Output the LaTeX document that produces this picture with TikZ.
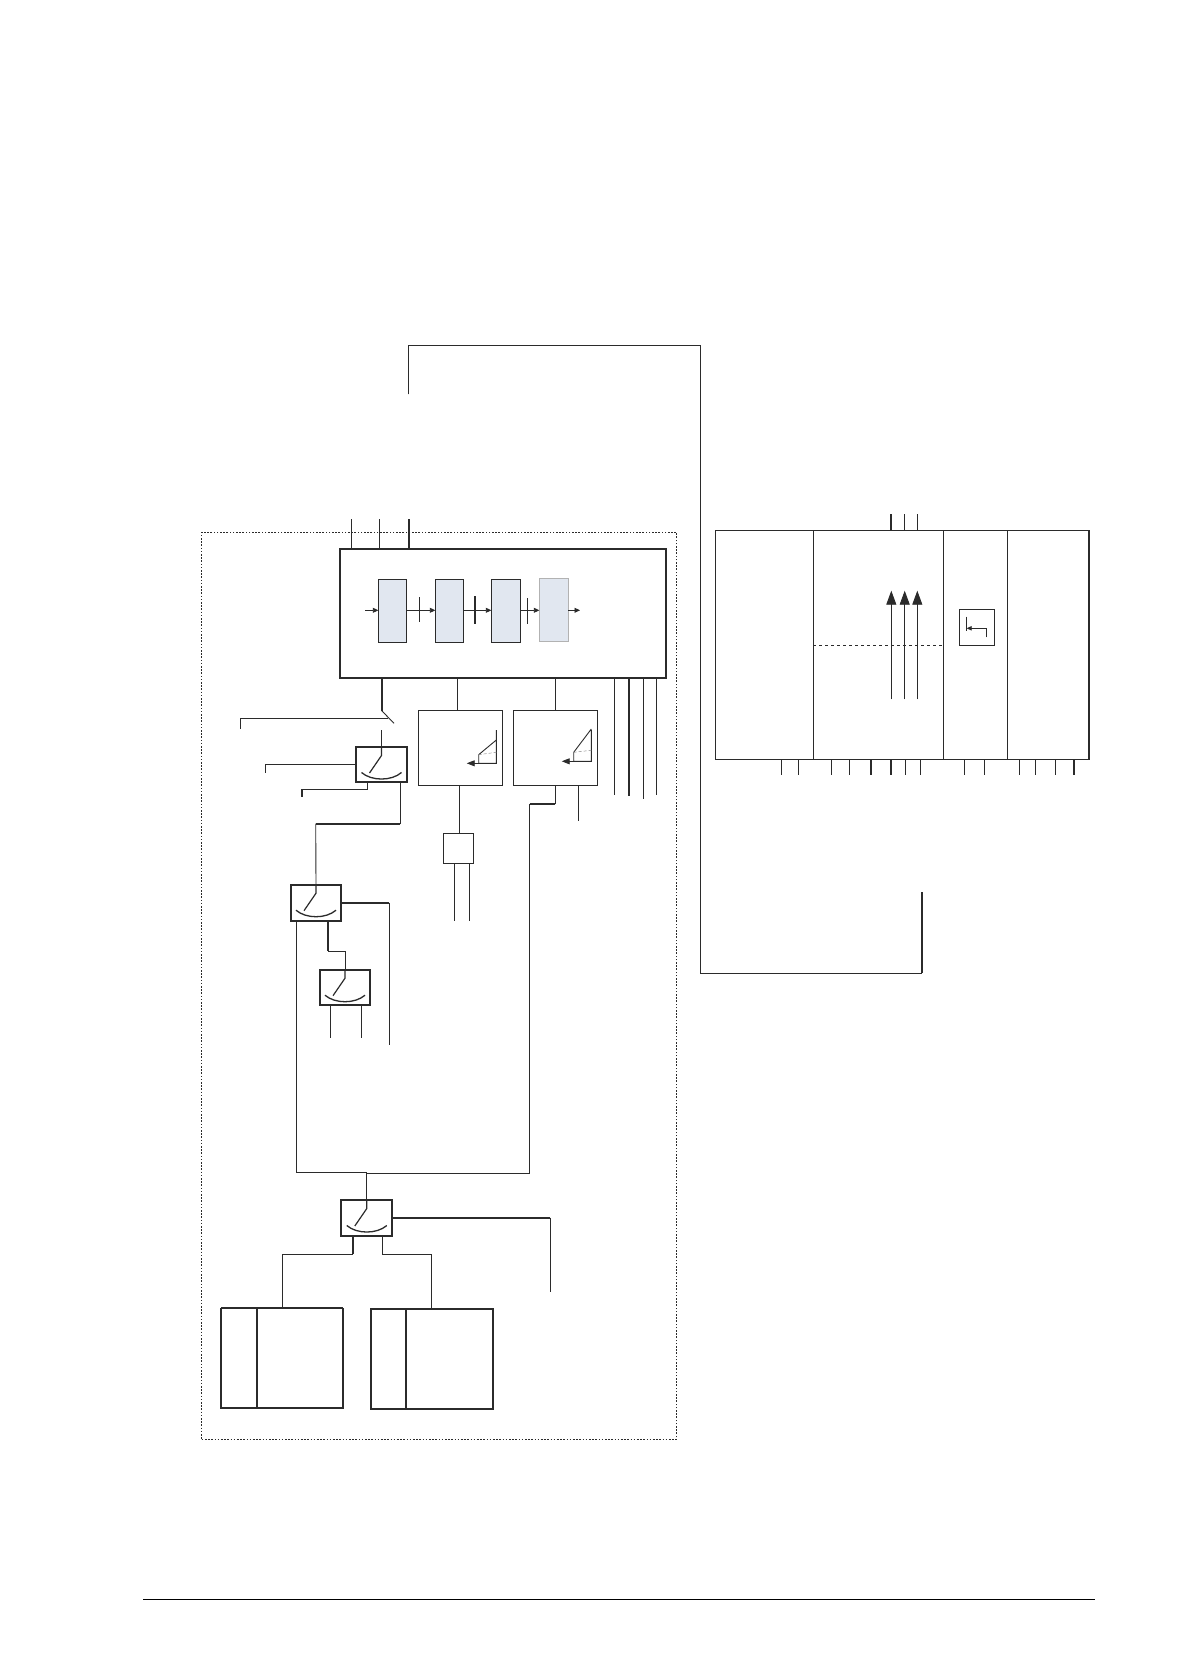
\documentclass[tikz,border=0pt]{standalone}
\usepackage{xcolor}
\usepackage{tikz}
\usetikzlibrary{arrows.meta, positioning}
\definecolor{ink}{HTML}{2B2B2B}
\definecolor{blockblue}{HTML}{E1E7F0}
\tikzset{
  wire/.style={draw=ink, line width=0.9pt},
  fatwire/.style={draw=ink, line width=1.7pt},
  plainbox/.style={draw=ink, line width=0.9pt, inner sep=0pt, outer sep=0pt},
  fatbox/.style={draw=ink, line width=2.1pt, inner sep=0pt, outer sep=0pt},
  bluebox/.style={plainbox, fill=blockblue, minimum width=28.4pt, minimum height=63.4pt},
  switchbox/.style={fatbox, minimum width=51pt, minimum height=36pt},
  sig/.style={wire, -{Triangle[length=5.5pt, width=5pt]}},
  rampsig/.style={wire, -{Triangle[length=8pt, width=6pt]}},
  bigarrow/.style={wire, -{Triangle[length=14pt, width=10pt]}}
}

\begin{document}
\begin{tikzpicture}[x=1pt, y=-1pt]
  \useasboundingbox (0,0) rectangle (1182,1680);

  % Outer frame
  \node[draw=ink, line width=0.8pt, dash pattern=on 1.6pt off 1.6pt, inner sep=0pt, outer sep=0pt,
        minimum width=475pt, minimum height=906.7pt] (frame) at (439.2,985.7) {};

  % Main block
  \node[fatbox, minimum width=326pt, minimum height=129pt] (main) at (503,613.2) {};
  \draw[wire] (main.north -| 351.7,0) -- ++(0,-29.5);
  \draw[wire] (main.north -| 379.5,0) -- ++(0,-29.5);
  \draw[fatwire] (main.north -| 409,0) -- ++(0,-29.5);

  % Chain inside
  \node[bluebox] (bla) at (392.5,611) {};
  \node[bluebox] (blb) at (449.5,611) {};
  \node[bluebox, minimum width=29.4pt] (blc) at (506,611) {};
  \node[bluebox, minimum width=29pt, draw=black!30] (bld) at (553.8,610.2) {};
  \coordinate (chainin) at (365,610.3);
  \coordinate (chainout) at (580,610.3);
  \draw[sig] (chainin) -- (bla.west |- chainin);
  \draw[sig] (bla.east |- chainin) -- (blb.west |- chainin);
  \draw[sig] (blb.east |- chainin) -- (blc.west |- chainin);
  \draw[sig] (blc.east |- chainin) -- (bld.west |- chainin);
  \draw[sig] (bld.east |- chainin) -- (chainout);
  \draw[wire] (419.3,597.3) -- (419.3,621.7);
  \draw[fatwire] (475,596) -- (475,624);
  \draw[wire] (527.3,598) -- (527.3,624);

  % Ramp blocks
  \node[plainbox, minimum width=84.4pt, minimum height=75pt] (rampa) at (460.5,747.8) {};
  \node[plainbox, minimum width=84pt, minimum height=75pt] (rampb) at (555.3,747.8) {};
  \draw[wire] (main.south -| 457.3,0) -- (rampa.north -| 457.3,0);
  \draw[wire] (main.south -| rampb.north) -- (rampb.north);
  \draw[wire] (496.3,730) -- (496.3,763.3) -- (478.7,763.3) -- (478.7,754.7) -- (496.3,740);
  \draw[wire, densely dashed, black!45, line width=0.5pt] (478.7,754.7) -- (496.3,752.3);
  \draw[rampsig] (478.7,763.3) -- (466.7,763.3);
  \draw[wire] (591.3,730) -- (591.3,761.3) -- (573.7,761.3) -- (573.7,752.3) -- (591.3,729);
  \draw[wire, densely dashed, black!45, line width=0.5pt] (573.7,752.3) -- (591.3,750.3);
  \draw[rampsig] (573.7,761.3) -- (561.7,761.3);

  % Small box under ramp
  \node[plainbox, minimum width=30.4pt, minimum height=30pt] (conv) at (458.5,848.3) {};
  \draw[wire] (rampa.south -| 459.3,0) -- (conv.north -| 459.3,0);
  \draw[wire] (conv.south -| 454.3,0) -- ++(0,58);
  \draw[wire] (conv.south -| 469.3,0) -- ++(0,58);

  % Lines on right of main
  \draw[wire] (main.south -| 614.3,0) -- ++(0,117.6);
  \draw[fatwire] (main.south -| 629,0) -- ++(0,118);
  \draw[wire] (main.south -| 643.3,0) -- ++(0,121.6);
  \draw[wire] (main.south -| 656.7,0) -- ++(0,117.3);
  \draw[wire] (rampb.south -| 578.3,0) -- ++(0,35.4);

  % Switches
  \node[switchbox, minimum width=51.6pt, minimum height=35pt] (swa) at (381.5,764.5) {};
  \node[switchbox, minimum width=50.6pt, minimum height=36.3pt] (swb) at (316,902.85) {};
  \node[switchbox, minimum width=50.6pt, minimum height=35.6pt] (swc) at (345,987.5) {};
  \node[switchbox] (swd) at (366.8,1218) {};
  \foreach \s in {swa,swb,swc,swd} {
    \draw[draw=ink, line width=1.2pt] (\s.north) -- ++(0,8.5) -- ++(-12,17.5);
    \draw[draw=ink, line width=1.3pt] (\s.north) ++(-20,25.5) .. controls +(10,8.7) and +(-10,8.7) .. +(40,0);
  }

  % Around first switch
  \draw[fatwire] (main.south -| 381.7,0) -- (381.7,710.7);
  \draw[wire] (381.7,710.7) -- (394,723.3);
  \draw[wire] (388,718.7) -- (240.3,718.7) -- (240.3,728.7);
  \draw[wire, line width=1.3pt] (swa.north) -- ++(0,-17);
  \draw[wire] (swa.west) -- ++(-90.4,0) -- ++(0,8.2);
  \draw[wire] (swa.south -| 367.7,0) -- ++(0,7.3) -- (302,789.3);
  \draw[fatwire] (302,789.3) -- (302,796.7);
  \draw[wire] (swa.south -| 400.3,0) -- (400.3,823.7);
  \draw[fatwire] (400.3,823.7) -- (315.7,823.7);
  \draw[wire] (315.7,823.7) -- (swb.north);

  % Around second and third switch
  \draw[fatwire] (swb.east |- 0,902.7) -- (389.3,902.7);
  \draw[wire] (389.3,902.7) -- (389.3,1045);
  \draw[fatwire] (swb.south -| 328,0) -- (328,951.3);
  \draw[wire] (328,951.3) -- (345,951.3) -- (swc.north);
  \draw[wire] (swc.south -| 330.3,0) -- ++(0,32.4);
  \draw[wire] (swc.south -| 361.7,0) -- ++(0,32.4);

  % Return lines to last switch
  \draw[wire] (swb.south -| 296.3,0) -- (296.3,1172.3) -- (366.8,1172.3) -- (swd.north);
  \draw[wire] (rampb.south) -- (555.3,803.7);
  \draw[fatwire] (555.3,803.7) -- (529.5,803.7);
  \draw[wire] (529.5,803.7) -- (529.5,1173.3) -- (366.8,1173.3);

  % Last switch to the two lower blocks
  \node[fatbox, line width=1.6pt, minimum width=122pt, minimum height=99.4pt] (lefta) at (282,1358) {};
  \node[fatbox, line width=1.6pt, minimum width=122pt, minimum height=99.7pt] (leftb) at (432,1358.9) {};
  \draw[draw=ink, line width=2.2pt] (lefta.north west) -- (lefta.north east);
  \draw[line width=1.6pt, draw=ink] (lefta.north -| 257,0) -- (lefta.south -| 257,0);
  \draw[line width=1.6pt, draw=ink] (leftb.north -| 406,0) -- (leftb.south -| 406,0);
  \draw[fatwire] (swd.east |- 0,1217.7) -- (550.3,1217.7);
  \draw[wire] (550.3,1217.7) -- (550.3,1291.7);
  \draw[fatwire] (swd.south -| 353,0) -- (353,1254.3);
  \draw[wire] (353,1254.3) -- (282.3,1254.3) -- (lefta.north -| 282.3,0);
  \draw[wire] (swd.south -| 382.3,0) -- (382.3,1254.3) -- (431.3,1254.3) -- (leftb.north -| 431.3,0);

  % Right block
  \node[plainbox, minimum width=373.7pt, minimum height=228.7pt] (rblock) at (902.2,644.7) {};
  \draw[wire] (rblock.north -| 813.3,0) -- (rblock.south -| 813.3,0);
  \draw[wire] (rblock.north -| 943.3,0) -- (rblock.south -| 943.3,0);
  \draw[wire] (rblock.north -| 1007.3,0) -- (rblock.south -| 1007.3,0);
  \draw[fatwire, line width=1.3pt] (rblock.north east) -- (rblock.south east);
  \draw[wire, dashed] (813.3,645.3) -- (943.3,645.3);
  \foreach \x in {891,904.7,917.7}
    \draw[fatwire, line width=1.4pt] (rblock.north -| \x,0) -- ++(0,-16);
  \foreach \x in {891.3,904.7,917.3}
    \draw[bigarrow] (\x,699.3) -- (\x,590.7);
  \foreach \x in {781.3,798.3,831.3,849.3,905.3,920.3,964.3,984.3,1019.3,1035.3,1055.3}
    \draw[wire] (rblock.south -| \x,0) -- ++(0,15.7);
  \foreach \x in {871,891,1074}
    \draw[fatwire, line width=1.5pt] (rblock.south -| \x,0) -- ++(0,15.7);

  % Small box in right block
  \node[fatbox, line width=1.3pt, minimum width=35.4pt, minimum height=36pt] (tapbox) at (977,627.3) {};
  \draw[wire] (966.3,616.7) -- (966.3,630.7);
  \draw[sig, -{Triangle[length=5pt, width=4.5pt]}] (986.3,637.3) -- (986.3,628.3) -- (966.7,628.3);

  % Long line between the two parts
  \coordinate (longa) at (408.3,394.3);
  \coordinate (longb) at (921.7,973.3);
  \coordinate (longc) at (921.7,892.3);
  \draw[wire] (longa) -- (408.3,345.3) -- (700.5,345.3) -- (700.5,973.3) -- (longb);
  \draw[wire, line width=1.4pt] (longa) -- (408.3,360);
  \draw[fatwire] (longb) -- (longc);

  % Footer rule
  \coordinate (rulea) at (143,1599.3);
  \coordinate (ruleb) at (1095,1599.3);
  \draw[draw=black, line width=1pt] (rulea) -- (ruleb);
\end{tikzpicture}
\end{document}
